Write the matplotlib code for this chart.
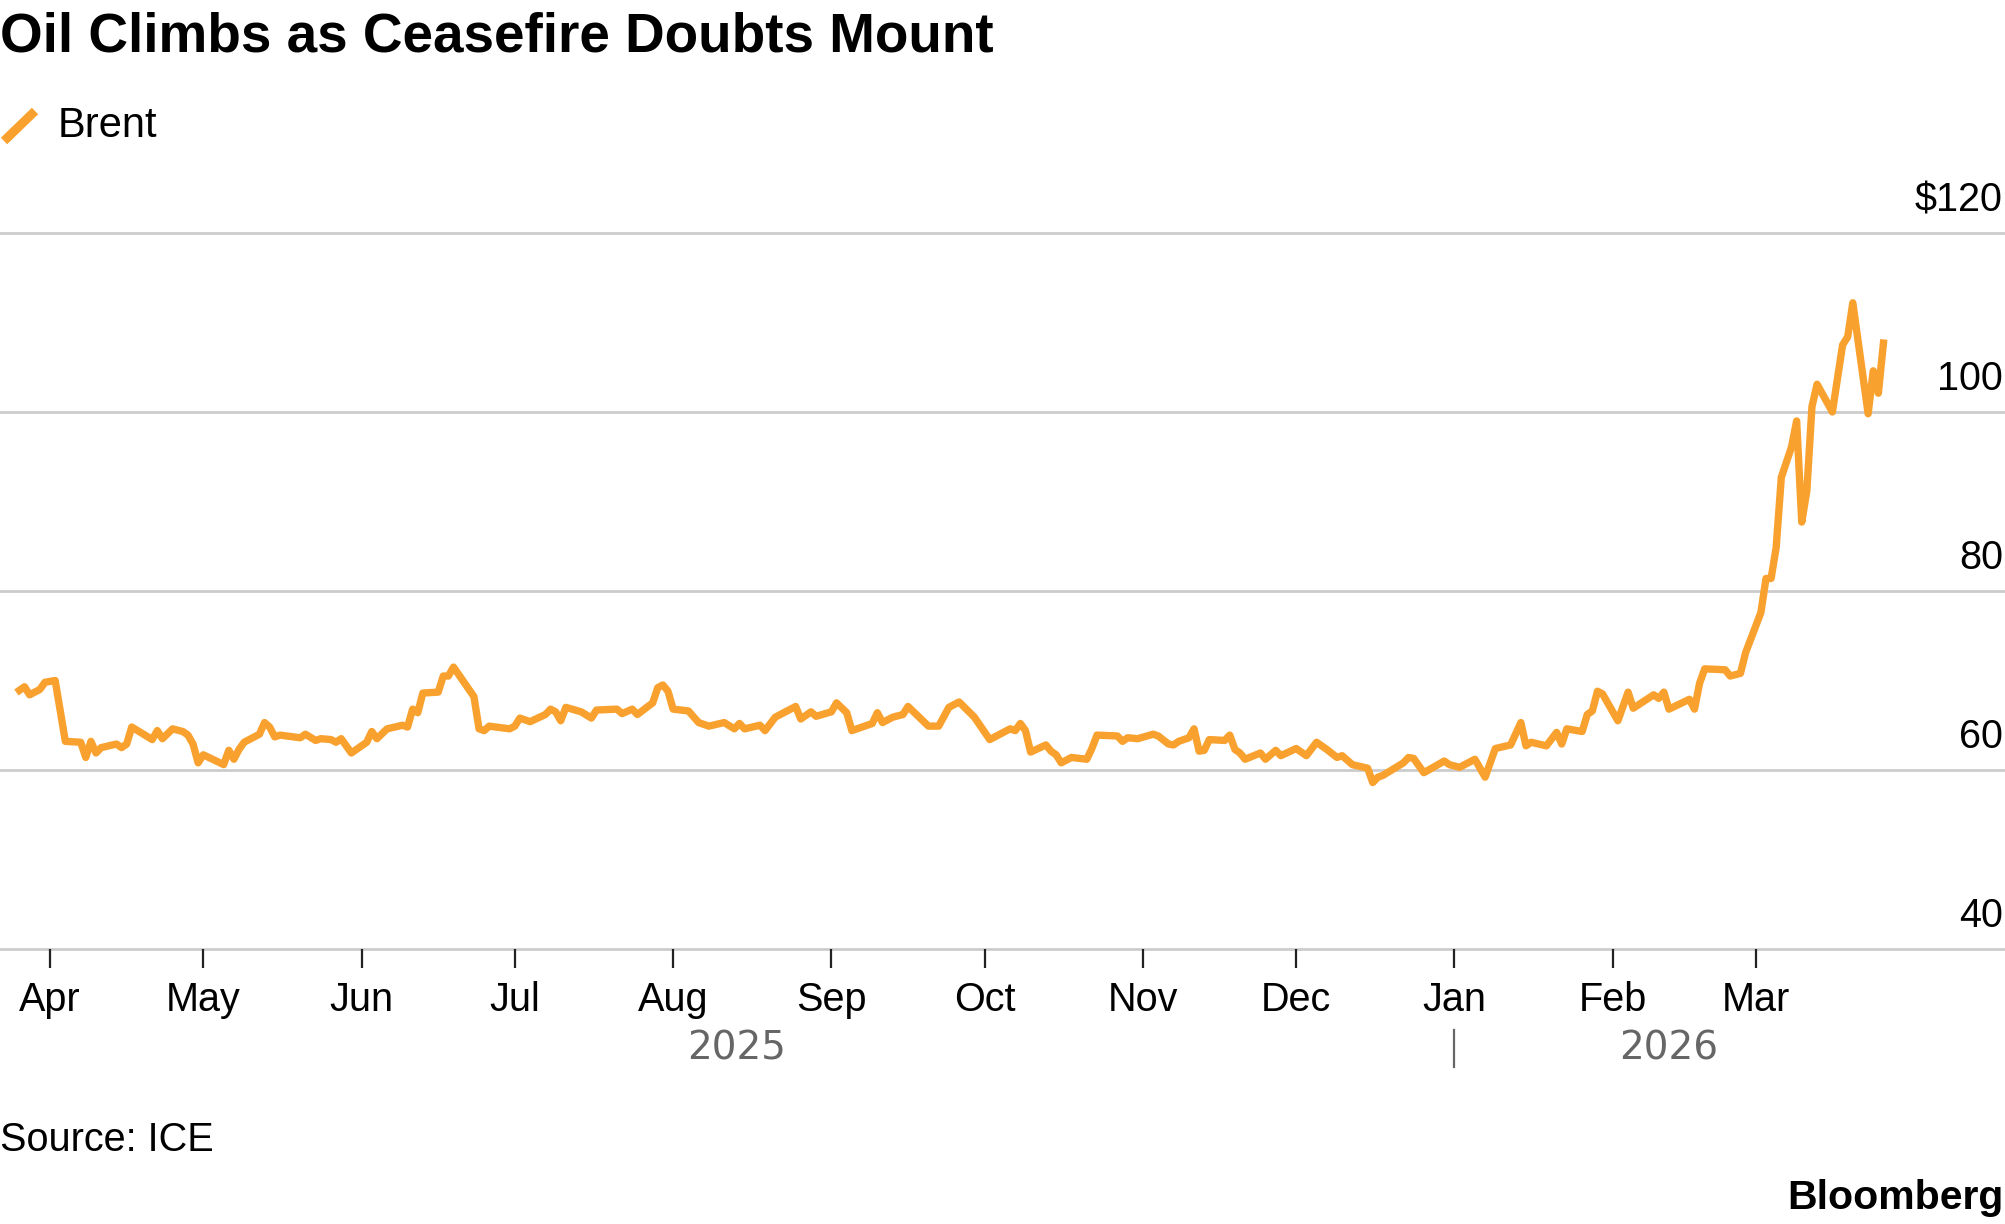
import matplotlib
matplotlib.use('Agg')
import matplotlib.pyplot as plt
import matplotlib.dates as mdates
import matplotlib.transforms as mtransforms
from matplotlib.lines import Line2D
import pandas as pd

plt.rcParams['font.family'] = ['Liberation Sans', 'DejaVu Sans']

# Brent close (USD/bbl)
brent_dates = [
    "2025-03-26", "2025-03-27", "2025-03-28", "2025-03-30", "2025-03-31", "2025-04-02", "2025-04-04",
    "2025-04-07", "2025-04-08", "2025-04-09", "2025-04-10", "2025-04-11", "2025-04-14", "2025-04-15",
    "2025-04-16", "2025-04-17", "2025-04-21", "2025-04-22", "2025-04-23", "2025-04-25", "2025-04-27",
    "2025-04-28", "2025-04-29", "2025-04-30", "2025-05-01", "2025-05-05", "2025-05-06", "2025-05-07",
    "2025-05-08", "2025-05-09", "2025-05-12", "2025-05-13", "2025-05-14", "2025-05-15", "2025-05-16",
    "2025-05-20", "2025-05-21", "2025-05-23", "2025-05-24", "2025-05-26", "2025-05-27", "2025-05-28",
    "2025-05-30", "2025-06-02", "2025-06-03", "2025-06-04", "2025-06-06", "2025-06-09", "2025-06-10",
    "2025-06-11", "2025-06-12", "2025-06-13", "2025-06-16", "2025-06-17", "2025-06-18", "2025-06-19",
    "2025-06-23", "2025-06-24", "2025-06-25", "2025-06-26", "2025-06-30", "2025-07-01", "2025-07-02",
    "2025-07-04", "2025-07-07", "2025-07-08", "2025-07-09", "2025-07-10", "2025-07-11", "2025-07-14",
    "2025-07-16", "2025-07-17", "2025-07-21", "2025-07-22", "2025-07-24", "2025-07-25", "2025-07-28",
    "2025-07-29", "2025-07-30", "2025-07-31", "2025-08-01", "2025-08-04", "2025-08-06", "2025-08-08",
    "2025-08-11", "2025-08-13", "2025-08-14", "2025-08-15", "2025-08-18", "2025-08-19", "2025-08-21",
    "2025-08-22", "2025-08-25", "2025-08-26", "2025-08-28", "2025-08-29", "2025-09-01", "2025-09-02",
    "2025-09-04", "2025-09-05", "2025-09-09", "2025-09-10", "2025-09-11", "2025-09-13", "2025-09-15",
    "2025-09-16", "2025-09-18", "2025-09-20", "2025-09-22", "2025-09-24", "2025-09-26", "2025-09-29",
    "2025-10-02", "2025-10-06", "2025-10-07", "2025-10-08", "2025-10-09", "2025-10-10", "2025-10-13",
    "2025-10-14", "2025-10-15", "2025-10-16", "2025-10-18", "2025-10-21", "2025-10-22", "2025-10-23",
    "2025-10-27", "2025-10-28", "2025-10-29", "2025-10-31", "2025-11-03", "2025-11-04", "2025-11-06",
    "2025-11-07", "2025-11-08", "2025-11-10", "2025-11-11", "2025-11-12", "2025-11-13", "2025-11-14",
    "2025-11-17", "2025-11-18", "2025-11-19", "2025-11-20", "2025-11-21", "2025-11-24", "2025-11-25",
    "2025-11-27", "2025-11-28", "2025-12-01", "2025-12-03", "2025-12-05", "2025-12-07", "2025-12-09",
    "2025-12-10", "2025-12-12", "2025-12-15", "2025-12-16", "2025-12-17", "2025-12-18", "2025-12-20",
    "2025-12-22", "2025-12-23", "2025-12-24", "2025-12-26", "2025-12-30", "2025-12-31", "2026-01-02",
    "2026-01-05", "2026-01-07", "2026-01-09", "2026-01-12", "2026-01-14", "2026-01-15", "2026-01-16",
    "2026-01-19", "2026-01-21", "2026-01-22", "2026-01-23", "2026-01-26", "2026-01-27", "2026-01-28",
    "2026-01-29", "2026-01-30", "2026-02-02", "2026-02-04", "2026-02-05", "2026-02-09", "2026-02-10",
    "2026-02-11", "2026-02-12", "2026-02-16", "2026-02-17", "2026-02-18", "2026-02-19", "2026-02-23",
    "2026-02-24", "2026-02-26", "2026-02-27", "2026-03-02", "2026-03-03", "2026-03-04", "2026-03-05",
    "2026-03-06", "2026-03-08", "2026-03-09", "2026-03-10", "2026-03-11", "2026-03-12", "2026-03-13",
    "2026-03-16", "2026-03-18", "2026-03-19", "2026-03-20", "2026-03-23", "2026-03-24", "2026-03-25",
    "2026-03-26",
]
brent_usd = [
    68.9, 69.3, 68.4, 69.0, 69.8, 70.0, 63.2,
    63.1, 61.4, 63.2, 61.9, 62.5, 62.9, 62.5,
    62.9, 64.8, 63.4, 64.4, 63.5, 64.6, 64.3,
    63.9, 62.9, 60.8, 61.7, 60.6, 62.2, 61.2,
    62.3, 63.1, 64.0, 65.3, 64.8, 63.7, 63.9,
    63.6, 64.0, 63.3, 63.5, 63.4, 63.1, 63.5,
    61.9, 63.1, 64.3, 63.5, 64.6, 65.0, 64.8,
    66.8, 66.4, 68.6, 68.7, 70.5, 70.5, 71.5,
    68.2, 64.6, 64.4, 64.9, 64.6, 64.9, 65.8,
    65.4, 66.2, 66.8, 66.5, 65.5, 67.0, 66.5,
    65.8, 66.7, 66.8, 66.3, 66.8, 66.2, 67.5,
    69.2, 69.5, 68.8, 66.8, 66.6, 65.3, 64.9,
    65.3, 64.6, 65.2, 64.6, 65.0, 64.4, 65.9,
    66.2, 67.1, 65.7, 66.5, 66.0, 66.5, 67.5,
    66.4, 64.4, 65.2, 66.4, 65.3, 65.9, 66.2,
    67.1, 66.0, 64.9, 64.9, 67.0, 67.6, 65.9,
    63.4, 64.6, 64.4, 65.2, 64.4, 62.0, 62.8,
    62.1, 61.7, 60.8, 61.4, 61.2, 62.4, 63.9,
    63.8, 63.2, 63.6, 63.5, 64.0, 63.8, 62.9,
    62.8, 63.2, 63.6, 64.6, 62.1, 62.2, 63.4,
    63.3, 63.9, 62.3, 61.9, 61.2, 61.9, 61.2,
    62.2, 61.6, 62.4, 61.6, 63.1, 62.3, 61.4,
    61.6, 60.6, 60.2, 58.6, 59.2, 59.4, 60.1,
    60.8, 61.4, 61.3, 59.7, 61.0, 60.6, 60.3,
    61.2, 59.2, 62.4, 62.8, 65.3, 62.7, 63.1,
    62.7, 64.2, 62.9, 64.6, 64.3, 66.2, 66.6,
    68.8, 68.5, 65.5, 68.7, 66.9, 68.4, 68.0,
    68.7, 66.8, 67.9, 66.8, 69.7, 71.3, 71.2,
    70.5, 70.8, 73.1, 77.6, 81.4, 81.4, 84.9,
    92.7, 96.1, 99.0, 87.7, 91.2, 100.6, 103.1,
    100.0, 107.5, 108.4, 112.2, 99.8, 104.6, 102.1,
    107.7,
]

y_ticks = [40, 60, 80, 100, 120]
y_labels = ['40', '60', '80', '100', r'\$120']
month_ticks = ['2025-04-01', '2025-05-01', '2025-06-01', '2025-07-01', '2025-08-01', '2025-09-01',
               '2025-10-01', '2025-11-01', '2025-12-01', '2026-01-01', '2026-02-01', '2026-03-01']
month_labels = ['Apr', 'May', 'Jun', 'Jul', 'Aug', 'Sep', 'Oct', 'Nov', 'Dec', 'Jan', 'Feb', 'Mar']
year_labels = ['2025', '2026']

title = 'Oil Climbs as Ceasefire Doubts Mount'
orange = '#F9A12E'
grid_col = '#cccccc'
fs = 28.5

W, H = 2005, 1224
fig = plt.figure(figsize=(W / 100, H / 100), dpi=100)
ax = fig.add_axes([0, 1 - 949 / H, 1, (949 - 233) / H])

dates = pd.to_datetime(brent_dates)
ax.plot(dates, brent_usd, color=orange, lw=5.3, zorder=3, solid_joinstyle='round')

apr1 = pd.Timestamp('2025-04-01')
ax.set_xlim(apr1 - pd.Timedelta(days=9.8), apr1 + pd.Timedelta(days=382.8))
ax.set_ylim(40, 120)

for v, lab in zip(y_ticks, y_labels):
    ax.axhline(v, color=grid_col, lw=2, zorder=1, clip_on=False)
    ax.annotate(lab, xy=(1, v), xycoords=('axes fraction', 'data'), xytext=(-1.5, 15.5),
                textcoords='offset points', ha='right', va='baseline', fontsize=fs)

ax.set_xticks(pd.to_datetime(month_ticks))
ax.set_xticklabels(month_labels)
ax.tick_params(axis='x', length=14, width=1.6, color='#222222', pad=9, labelsize=fs)
ax.tick_params(axis='y', left=False, labelleft=False)
for s in ax.spines.values():
    s.set_visible(False)

# year labels under the months, centred on each year's span
jan1 = pd.Timestamp('2026-01-01')
trans = mtransforms.blended_transform_factory(ax.transData, fig.transFigure)
mid25 = dates[0] + (jan1 - dates[0]) / 2
mid26 = jan1 + (dates[-1] - jan1) / 2
for d, lab in zip([mid25, mid26], year_labels):
    ax.text(d, 1 - 1059 / H, lab, transform=trans, ha='center', va='baseline',
            fontsize=28, color='#666666', family='DejaVu Sans')
ax.add_line(Line2D([mdates.date2num(jan1)] * 2, [1 - 1030 / H, 1 - 1067 / H], transform=trans,
                   color='#666666', lw=1.6, clip_on=False))

fig.text(0, 1 - 51 / H, title, fontsize=39.5, fontweight='bold', ha='left', va='baseline')
fig.add_artist(Line2D([4 / W, 35 / W], [1 - 141 / H, 1 - 111 / H], color=orange, lw=6.5,
                      solid_capstyle='butt'))
fig.text(58 / W, 1 - 137 / H, 'Brent', fontsize=30, ha='left', va='baseline')
fig.text(0, 1 - 1151 / H, 'Source: ICE', fontsize=fs, ha='left', va='baseline')
fig.text(2003 / W, 1 - 1209 / H, 'Bloomberg', fontsize=29.5, fontweight='bold', ha='right', va='baseline')

fig.savefig('out.png', dpi=100)
